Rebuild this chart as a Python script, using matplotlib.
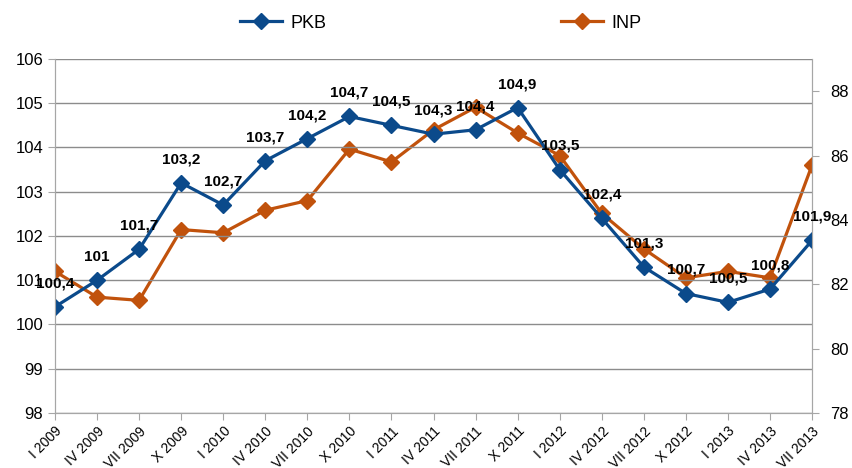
import matplotlib
matplotlib.use('Agg')
import matplotlib.pyplot as plt

plt.rcParams['font.family'] = ['Liberation Sans', 'DejaVu Sans']

# quarter labels
quarters = ['I 2009', 'IV 2009', 'VII 2009', 'X 2009', 'I 2010', 'IV 2010',
            'VII 2010', 'X 2010', 'I 2011', 'IV 2011', 'VII 2011', 'X 2011',
            'I 2012', 'IV 2012', 'VII 2012', 'X 2012', 'I 2013', 'IV 2013',
            'VII 2013']
pkb = [100.4, 101.0, 101.7, 103.2, 102.7, 103.7, 104.2, 104.7, 104.5, 104.3,
       104.4, 104.9, 103.5, 102.4, 101.3, 100.7, 100.5, 100.8, 101.9]
inp = [82.4, 81.6, 81.5, 83.7, 83.6, 84.3, 84.6, 86.2, 85.8, 86.8,
       87.5, 86.7, 86.0, 84.2, 83.1, 82.2, 82.4, 82.2, 85.7]

blue = '#0B4A8B'
orange = '#C1520C'
grid_c = '#8C8C8C'
spine_c = '#A6A6A6'

fig = plt.figure(figsize=(8.53, 4.68), dpi=100)
ax = fig.add_axes([0.0645, 0.1175, 0.8875, 0.7565])
ax2 = ax.twinx()

x = list(range(len(quarters)))

l2, = ax2.plot(x, inp, color=orange, lw=2.3, marker='D', ms=8, label='INP')
l1, = ax.plot(x, pkb, color=blue, lw=2.3, marker='D', ms=8, label='PKB')
ax.set_zorder(ax2.get_zorder() + 1)
ax.patch.set_visible(False)

for xi, v in zip(x, pkb):
    s = ('%g' % v).replace('.', ',')
    ax.annotate(s, (xi, v), xytext=(0, 17), textcoords='offset points',
                ha='center', va='center', fontsize=11, fontweight='bold')

ax.set_xlim(0, len(quarters) - 1)
ax.set_ylim(98, 106)
ax.set_yticks(range(98, 107))
ax2.set_ylim(78, 89)
ax2.set_yticks(range(78, 89, 2))

ax.set_xticks(x)
ax.set_xticklabels(quarters, rotation=45, ha='right', rotation_mode='anchor',
                   fontsize=10)
ax.grid(axis='y', color=grid_c, lw=1)
ax.set_axisbelow(True)

for a in (ax, ax2):
    for sp in a.spines.values():
        sp.set_color(spine_c)
    a.spines['top'].set_visible(False)
    a.tick_params(colors=spine_c, labelcolor='black', labelsize=12, length=5)
ax.tick_params(axis='x', labelsize=10, pad=3)
ax2.tick_params(axis='y', pad=8)

fig.legend(handles=[l1, l2], loc='center', bbox_to_anchor=(441 / 853, 1 - 23 / 468),
           ncol=2, frameon=False, fontsize=13, columnspacing=13,
           handlelength=2.3, handletextpad=0.5)

fig.savefig('out.png', dpi=100)
